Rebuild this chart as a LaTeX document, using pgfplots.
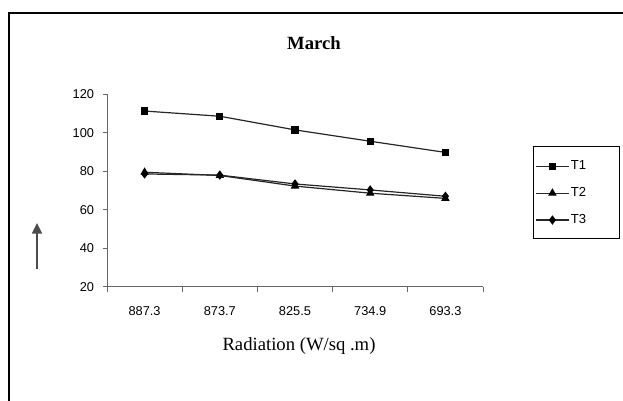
\documentclass[border=0pt]{standalone}
\usepackage{pgfplots}
\pgfplotsset{compat=1.18}
\usepackage{fontspec}
\setmainfont{Liberation Serif}
\newfontfamily\arial{Liberation Sans}
\usetikzlibrary{arrows.meta}

\begin{document}
\begin{tikzpicture}[x=0.75pt,y=0.75pt]
\useasboundingbox (0,0) rectangle (623,400);
\draw[line width=2pt] (9,-3) -- (9,387) -- (626,387);
\node[font=\bfseries\fontsize{14}{16}\selectfont, anchor=base, inner sep=0pt] at (314,350) {March};
\draw[black!70, line width=1.1pt, -{Triangle[length=8pt,width=7.5pt]}] (37,131) -- (37,177);
\draw[black, line width=0.75pt] (533,253) rectangle (619,162);
\coordinate (ax) at (107,113.3);
\begin{axis}[
  at={(ax)}, anchor=south west,
  scale only axis, width=282pt, height=144.3pt,
  xmin=0.5, xmax=5.5, ymin=20, ymax=120,
  clip=false,
  axis lines*=left,
  axis line style={black!60, line width=0.75pt},
  tick align=outside,
  tick style={black!60, line width=0.75pt},
  major tick length=3pt,
  minor tick length=3.75pt,
  major x tick style={draw=none},
  xtick={1,2,3,4,5},
  xticklabels={887.3,873.7,825.5,734.9,693.3},
  minor xtick={0.5,1.5,2.5,3.5,4.5,5.5},
  ytick={20,40,60,80,100,120},
  /pgf/number format/assume math mode=true,
  ticklabel style={font=\arial\fontsize{9.6}{11}\selectfont},
  yticklabel style={anchor=east, inner sep=0pt, xshift=-6.5pt},
  xticklabel style={anchor=base, inner sep=0pt, yshift=-18.8pt},
  xlabel={Radiation (W/sq .m)},
  xlabel style={at={(axis description cs:0.5106,-0.3290)}, anchor=base, inner sep=0pt, font=\fontsize{14}{16}\selectfont},
  every axis plot/.append style={black!85, line width=0.9pt, mark options={solid, fill=black, draw=black}},
  legend image code/.code={\draw[mark repeat=2,mark phase=2] plot coordinates {(0pt,0pt) (12.4pt,0pt) (24.8pt,0pt)};},
  legend style={at={(axis description cs:1.133,0.690)}, anchor=north west,
    draw=none, fill=none, inner xsep=1.5pt, inner ysep=4pt,
    font=\arial\fontsize{9.8}{11}\selectfont, row sep=9.8pt,
    nodes={inner sep=1pt}},
  legend cell align=left,
]
\addplot[mark=square*, mark size=2.3pt] coordinates {(1,111.3) (2,108.6) (3,101.5) (4,95.6) (5,89.8)};
\addlegendentry{T1}
\addplot[mark=triangle*, mark size=2.8pt] coordinates {(1,79.5) (2,77.8) (3,72.3) (4,68.6) (5,65.9)};
\addlegendentry{T2}
\addplot[mark=diamond*, mark size=2.8pt] coordinates {(1,78.6) (2,78.0) (3,73.4) (4,70.3) (5,67.0)};
\addlegendentry{T3}
\end{axis}
\end{tikzpicture}
\end{document}
